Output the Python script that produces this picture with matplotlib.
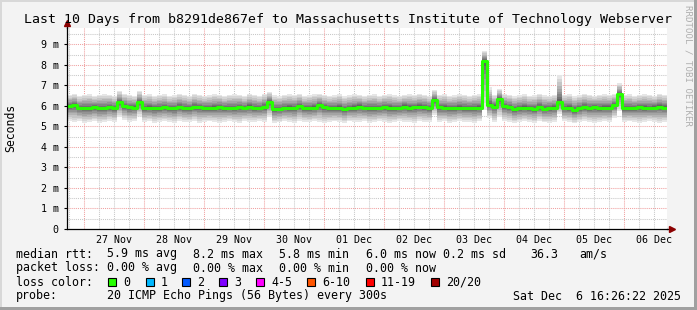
import numpy as np
import pandas as pd
import matplotlib
matplotlib.use("Agg")
import matplotlib.pyplot as plt
import matplotlib.dates as mdates
from matplotlib.patches import Rectangle

# Chart data: 120 buckets of 2 hours each
START = "2025-11-26 17:12"
BUCKET_HOURS = 2

median_ms = [
    6.00, 6.05, 5.90, 5.90, 5.88, 5.93, 5.90, 5.88, 5.95, 5.90,
    6.18, 6.00, 5.93, 5.92, 6.18, 5.90, 5.90, 5.88, 5.90, 5.93,
    5.90, 5.88, 5.95, 5.90, 5.88, 5.95, 5.93, 5.90, 5.88, 5.90,
    5.95, 5.90, 5.90, 5.88, 5.95, 5.90, 5.97, 5.90, 5.90, 5.95,
    6.18, 5.83, 5.85, 5.90, 5.90, 5.90, 6.00, 5.90, 5.88, 5.90,
    6.05, 5.93, 5.90, 5.88, 5.90, 5.83, 5.88, 5.90, 5.97, 5.90,
    5.90, 5.88, 5.90, 5.95, 5.90, 5.88, 5.90, 5.97, 5.90, 5.93,
    5.97, 5.95, 5.90, 6.30, 5.93, 5.90, 5.90, 5.88, 5.92, 5.90,
    5.90, 5.90, 5.90, 8.20, 6.07, 5.97, 6.35, 6.00, 5.95, 5.83,
    5.88, 5.90, 5.88, 5.85, 5.95, 5.85, 5.90, 5.92, 6.20, 5.90,
    5.90, 5.80, 5.88, 5.95, 5.90, 5.95, 5.90, 5.90, 5.92, 6.05,
    6.60, 5.90, 5.88, 5.90, 5.93, 5.90, 5.90, 5.92, 5.97, 5.92,
]

smoke_max_ms = [
    6.55, 6.60, 6.50, 6.55, 6.60, 6.50, 6.55, 6.60, 6.55, 6.50,
    6.75, 6.60, 6.55, 6.50, 6.75, 6.55, 6.60, 6.50, 6.55, 6.60,
    6.50, 6.55, 6.60, 6.55, 6.50, 6.60, 6.55, 6.50, 6.55, 6.60,
    6.55, 6.50, 6.55, 6.60, 6.55, 6.50, 6.60, 6.55, 6.50, 6.60,
    6.70, 6.55, 6.50, 6.55, 6.60, 6.55, 6.60, 6.50, 6.55, 6.60,
    6.60, 6.55, 6.50, 6.55, 6.60, 6.50, 6.55, 6.60, 6.55, 6.50,
    6.55, 6.60, 6.50, 6.55, 6.60, 6.55, 6.50, 6.55, 6.60, 6.55,
    6.60, 6.55, 6.50, 6.80, 6.55, 6.60, 6.50, 6.55, 6.60, 6.55,
    6.50, 6.55, 6.60, 8.70, 6.90, 6.55, 6.85, 6.60, 6.55, 6.50,
    6.55, 6.60, 6.50, 6.55, 6.60, 6.55, 6.50, 6.55, 7.50, 6.55,
    6.60, 6.50, 6.55, 6.60, 6.55, 6.50, 6.55, 6.60, 6.55, 6.60,
    7.10, 6.55, 6.60, 6.50, 6.55, 6.60, 6.55, 6.50, 6.60, 6.55,
]

smoke_min_ms = [
    5.25, 5.20, 5.25, 5.15, 5.20, 5.25, 5.15, 5.20, 5.25, 5.20,
    5.45, 5.30, 5.20, 5.25, 5.50, 5.20, 5.25, 5.15, 5.20, 5.25,
    5.20, 5.15, 5.25, 5.20, 5.20, 5.25, 5.15, 5.20, 5.25, 5.20,
    5.15, 5.20, 5.25, 5.20, 5.15, 5.25, 5.20, 5.20, 5.25, 5.20,
    5.45, 5.15, 5.20, 5.25, 5.20, 5.15, 5.25, 5.20, 5.20, 5.25,
    5.20, 5.15, 5.20, 5.25, 5.20, 5.15, 5.25, 5.20, 5.20, 5.25,
    5.15, 5.20, 5.25, 5.20, 5.15, 5.20, 5.25, 5.20, 5.20, 5.15,
    5.25, 5.20, 5.20, 5.55, 5.20, 5.25, 5.15, 5.20, 5.25, 5.20,
    5.20, 5.15, 5.25, 5.80, 5.40, 5.20, 5.45, 5.25, 5.20, 5.15,
    5.20, 5.25, 5.20, 5.15, 5.25, 5.20, 5.15, 5.20, 5.60, 5.25,
    5.20, 5.15, 5.20, 5.25, 5.20, 5.15, 5.20, 5.25, 5.20, 5.40,
    5.75, 5.20, 5.25, 5.20, 5.15, 5.20, 5.25, 5.20, 5.15, 5.20,
]

y_ticks = [0, 1, 2, 3, 4, 5, 6, 7, 8, 9]
y_tick_labels = ["0", "1 m", "2 m", "3 m", "4 m", "5 m", "6 m", "7 m", "8 m", "9 m"]

title = "Last 10 Days from b8291de867ef to Massachusetts Institute of Technology Webserver"

legend_rows = [
    ["median rtt:", "5.9 ms avg", "8.2 ms max", "5.8 ms min", "6.0 ms now", "0.2 ms sd", "36.3", "am/s"],
    ["packet loss:", "0.00 % avg", "0.00 % max", "0.00 % min", "0.00 % now"],
]
loss_labels = ["0", "1", "2", "3", "4-5", "6-10", "11-19", "20/20"]
loss_colors = ["#26ff00", "#00b8ff", "#0059ff", "#7e00ff", "#ff00ff", "#ff5500", "#ff0000", "#a10000"]
probe_text = "20 ICMP Echo Pings (56 Bytes) every 300s"
stamp_text = "Sat Dec  6 16:26:22 2025"

MONO = "DejaVu Sans Mono"
W, H = 697, 310


def fx(px):
    return px / W


def fy(py):
    return 1 - py / H


fig = plt.figure(figsize=(W / 100, H / 100), dpi=100, facecolor="#f3f3f3")

# 3D style frame of rrdtool canvas
fig.add_artist(Rectangle((0, fy(2)), 1, 2 / H, transform=fig.transFigure, color="#d8d8d8", lw=0))
fig.add_artist(Rectangle((0, 0), 2 / W, 1, transform=fig.transFigure, color="#d8d8d8", lw=0))
fig.add_artist(Rectangle((0, 0), 1, 3 / H, transform=fig.transFigure, color="#a0a0a0", lw=0))
fig.add_artist(Rectangle((fx(W - 3), 0), 3 / W, 1, transform=fig.transFigure, color="#a0a0a0", lw=0))

left, right, top, bottom = 67, 667, 28, 229
ax = fig.add_axes([fx(left), fy(bottom), (right - left) / W, (bottom - top) / H])
ax.set_facecolor("white")

n = len(median_ms)
t = pd.date_range(START, periods=n + 1, freq=f"{BUCKET_HOURS}h")
x = mdates.date2num(t)
med = np.array(median_ms + [median_ms[-1]])
hi = np.array(smoke_max_ms + [smoke_max_ms[-1]])
lo = np.array(smoke_min_ms + [smoke_min_ms[-1]])

# smoke: stacked grey bands, darker toward the median
layers = 10
for k in range(layers):
    f = (1 - k / layers) ** 1.4
    g = 0.90 - 0.58 * k / (layers - 1)
    ax.fill_between(x, med - (med - lo) * f, med + (hi - med) * f, step="post",
                    color=(g, g, g), lw=0, zorder=2)

ax.step(x, med, where="post", color="#26ff00", lw=2.2, zorder=3)

ax.set_xlim(x[0], x[-1])
ax.set_ylim(0, 9.8)

# grid
grid_kw = dict(lw=0.75, ls=(0, (1, 1)))
for yv in np.arange(0.5, 9.8, 0.5):
    col = "#f0a0a0" if yv % 1 == 0 else "#c8c8c8"
    ax.axhline(yv, color=col, zorder=1, **grid_kw)
six_hours = mdates.date2num(pd.date_range("2025-11-26 18:00", t[-1], freq="6h"))
for xv in six_hours:
    midnight = mdates.num2date(xv).hour == 0
    ax.axvline(xv, color="#f0a0a0" if midnight else "#c8c8c8", zorder=1, **grid_kw)

noons = mdates.date2num(pd.date_range("2025-11-27 12:00", periods=10, freq="D"))
ax.set_xticks(noons)
ax.xaxis.set_major_formatter(mdates.DateFormatter("%d %b"))
ax.tick_params(axis="x", length=0, pad=4, labelsize=7.2)
ax.set_yticks(y_ticks, y_tick_labels)
ax.tick_params(axis="y", length=2, width=0.8, pad=4, labelsize=7.2)
for lab in ax.get_xticklabels() + ax.get_yticklabels():
    lab.set_family(MONO)

for s in ["top", "right"]:
    ax.spines[s].set_visible(False)
for s in ["left", "bottom"]:
    ax.spines[s].set_color("black")
    ax.spines[s].set_linewidth(0.9)
    ax.spines[s].set_zorder(5)

# axis arrows
ax.plot([0, 0], [1, 1.02], transform=ax.transAxes, color="black", lw=0.9, clip_on=False)
ax.plot([1, 1.008], [0, 0], transform=ax.transAxes, color="black", lw=0.9, clip_on=False)
ax.plot([0], [1.025], marker="^", ms=4, color="#8b0000", transform=ax.transAxes, clip_on=False)
ax.plot([1.009], [0], marker=">", ms=4, color="#8b0000", transform=ax.transAxes, clip_on=False)

fig.text(fx(11), fy(128), "Seconds", family=MONO, fontsize=8.3, rotation=90, ha="center", va="center")

fig.text(0.5, fy(19), title, family=MONO, fontsize=9.5, ha="center", va="center")
fig.text(fx(688), fy(5), "RRDTOOL / TOBI OETIKER", family=MONO, fontsize=6.6, color="#b0b0b0",
         rotation=270, ha="center", va="top")

# legend
fs = 8.4
row1_x = [16, 107, 193, 279, 366, 443, 530, 579]
for txt, px in zip(legend_rows[0], row1_x):
    fig.text(fx(px), fy(254), txt, family=MONO, fontsize=fs, va="center")
for txt, px in zip(legend_rows[1], row1_x):
    fig.text(fx(px), fy(268), txt, family=MONO, fontsize=fs, va="center")

fig.text(fx(16), fy(282), "loss color:", family=MONO, fontsize=fs, va="center")
box_x = [108, 146, 182, 219, 256, 307, 366, 431]
for lab, col, px in zip(loss_labels, loss_colors, box_x):
    fig.add_artist(Rectangle((fx(px), fy(286)), 8 / W, 8 / H, transform=fig.transFigure,
                             facecolor=col, edgecolor="black", lw=0.8))
    fig.text(fx(px + 15), fy(282), lab, family=MONO, fontsize=fs, va="center")

fig.text(fx(16), fy(296), "probe:", family=MONO, fontsize=fs, va="center")
fig.text(fx(107), fy(296), probe_text, family=MONO, fontsize=fs, va="center")
fig.text(fx(681), fy(296), stamp_text, family=MONO, fontsize=fs, va="center", ha="right")

fig.savefig("out.png", dpi=100, facecolor=fig.get_facecolor())
